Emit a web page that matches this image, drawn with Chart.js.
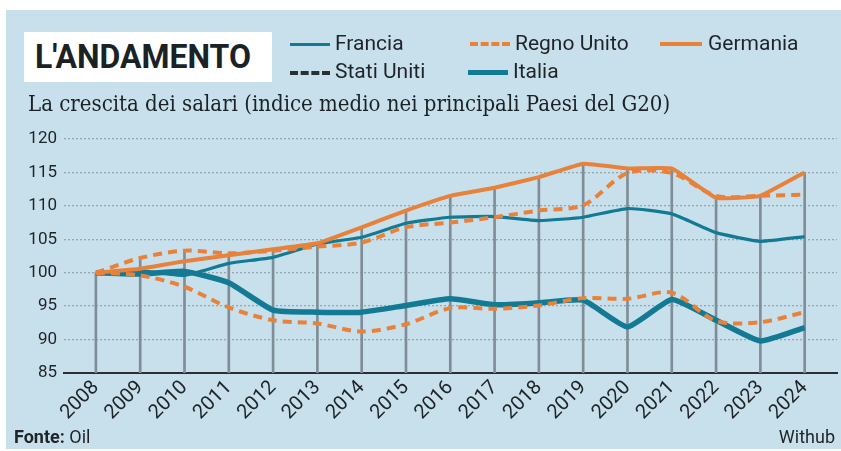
<!DOCTYPE html>
<html>
<head>
<meta charset="utf-8">
<script src="https://cdn.jsdelivr.net/npm/chart.js@4.4.1/dist/chart.umd.min.js"></script>
<style>
  body { margin: 0; background: #fff; width: 841px; height: 451px; overflow: hidden; position: relative; font-family: Roboto, sans-serif; }
  #panel { position: absolute; left: 6px; top: 10px; width: 835px; height: 439px; background: #c8e0ec; }
  #chart { position: absolute; left: 0; top: 0; }
  .abs { position: absolute; white-space: nowrap; color: #1e2428; }
  #titlebox { left: 24px; top: 32px; width: 248px; height: 50px; background: #fff; }
  #titlebox span { position: absolute; left: 11px; top: 4px; font: 700 34px Roboto, sans-serif; color: #1b2226; transform: scaleX(0.94); transform-origin: left center; }
  .leg { font: 400 21px Roboto, sans-serif; line-height: 24px; }
  .sw { position: absolute; height: 0; }
  #subtitle { left: 28px; top: 91px; font: 400 22px "DejaVu Serif Condensed", "DejaVu Serif", serif; font-stretch: condensed; color: #1b2226; }
  #fonte { left: 14px; top: 426px; font: 400 18px Roboto, sans-serif; }
  #withub { right: 6px; top: 426px; font: 400 18px Roboto, sans-serif; }
</style>
</head>
<body>
<div id="panel"></div>
<canvas id="chart" width="841" height="451"></canvas>

<div id="titlebox" class="abs"><span>L'ANDAMENTO</span></div>

<div class="abs sw" style="left:290px;top:43px;width:40px;border-top:3px solid #127b93"></div>
<div class="abs leg" style="left:335px;top:31px">Francia</div>
<div class="abs sw" style="left:470px;top:42px;width:40px;border-top:4px dashed #e8813a"></div>
<div class="abs leg" style="left:515px;top:31px">Regno Unito</div>
<div class="abs sw" style="left:660px;top:42px;width:42px;border-top:4px solid #e8813a"></div>
<div class="abs leg" style="left:708px;top:31px">Germania</div>
<div class="abs sw" style="left:290px;top:71px;width:40px;border-top:4px dashed #2a2f33"></div>
<div class="abs leg" style="left:335px;top:59px">Stati Uniti</div>
<div class="abs sw" style="left:468px;top:70px;width:40px;border-top:5px solid #127b93"></div>
<div class="abs leg" style="left:513px;top:59px">Italia</div>

<div id="subtitle" class="abs">La crescita dei salari (indice medio nei principali Paesi del G20)</div>
<div id="fonte" class="abs"><b>Fonte:</b> Oil</div>
<div id="withub" class="abs">Withub</div>

<script>
// Anni e valori (indice, 2008 = 100)
const years = [2008, 2009, 2010, 2011, 2012, 2013, 2014, 2015, 2016, 2017, 2018, 2019, 2020, 2021, 2022, 2023, 2024];
const francia = [100, 100.3, 99.6, 101.4, 102.3, 104.3, 105.3, 107.4, 108.3, 108.4, 107.8, 108.3, 109.6, 108.8, 106.0, 104.7, 105.4];
const regnoUnito = [100, 99.6, 97.9, 94.8, 92.9, 92.4, 91.2, 92.3, 94.7, 94.6, 95.1, 96.2, 96.1, 97.0, 92.8, 92.6, 94.1];
const germania = [100, 100.6, 101.7, 102.6, 103.5, 104.4, 106.8, 109.3, 111.5, 112.7, 114.3, 116.3, 115.6, 115.6, 111.2, 111.5, 115.0];
const statiUniti = [100, 102.2, 103.3, 102.9, 103.3, 103.9, 104.5, 106.8, 107.5, 108.3, 109.3, 110.1, 114.9, 114.9, 111.5, 111.5, 111.7];
const italia = [100, 99.8, 100.2, 98.5, 94.4, 94.1, 94.1, 95.1, 96.1, 95.2, 95.5, 95.9, 91.9, 96.0, 92.9, 89.8, 91.8];
const yTicks = [85, 90, 95, 100, 105, 110, 115, 120];

const orange = '#e8813a';
const teal = '#127b93';
const tickFont = { family: 'Roboto', size: 17 };

const toPoints = arr => arr.map((v, i) => ({ x: years[i], y: v }));

// linee verticali: dall'asse fino alla serie più alta
const tops = years.map((y, i) => Math.max(francia[i], regnoUnito[i], germania[i], statiUniti[i], italia[i]));

const lineDs = (label, arr, color, width, dash, tension, order) => ({
    type: 'line',
    label: label,
    data: toPoints(arr),
    borderColor: color,
    borderWidth: width,
    borderDash: dash,
    borderCapStyle: 'butt',
    tension: tension,
    pointRadius: 0,
    fill: false,
    order: order
});

new Chart(document.getElementById('chart'), {
    data: {
        datasets: [
            {
                type: 'bar',
                label: 'drop',
                data: tops.map((t, i) => ({ x: years[i], y: [85, t] })),
                backgroundColor: '#7f8e96',
                barThickness: 2,
                order: 10
            },
            lineDs('Italia', italia, teal, 5.5, [], 0.15, 5),
            lineDs('Francia', francia, teal, 3.2, [], 0.15, 4),
            lineDs('Regno Unito', regnoUnito, orange, 4, [9, 6], 0.3, 3),
            lineDs('Stati Uniti', statiUniti, orange, 4, [9, 6], 0.3, 2),
            lineDs('Germania', germania, orange, 4, [], 0.1, 1)
        ]
    },
    options: {
        responsive: false,
        animation: false,
        events: [],
        layout: { padding: { top: 139, right: 4, bottom: 26, left: 0 } },
        plugins: { legend: { display: false }, tooltip: { enabled: false } },
        scales: {
            x: {
                type: 'linear',
                offset: false,
                min: 2007.28,
                max: 2024.73,
                afterBuildTicks: s => { s.ticks = years.map(v => ({ value: v })); },
                afterFit: s => { s.height = 52; },
                grid: { display: false, drawTicks: false, offset: false },
                border: { display: true, color: '#2a2f33', width: 2 },
                ticks: {
                    font: { family: 'Roboto', size: 20 },
                    color: '#1e2428',
                    minRotation: 45,
                    maxRotation: 45,
                    padding: 3,
                    callback: v => String(v)
                }
            },
            y: {
                min: 85,
                max: 120,
                afterBuildTicks: s => { s.ticks = yTicks.map(v => ({ value: v })); },
                afterFit: s => { s.width = 64; },
                grid: { color: '#97a6ae', lineWidth: 1.3, drawTicks: false },
                border: { display: false, dash: [2, 2] },
                ticks: { font: tickFont, color: '#1e2428', padding: 7 }
            }
        }
    }
});
</script>
</body>
</html>
